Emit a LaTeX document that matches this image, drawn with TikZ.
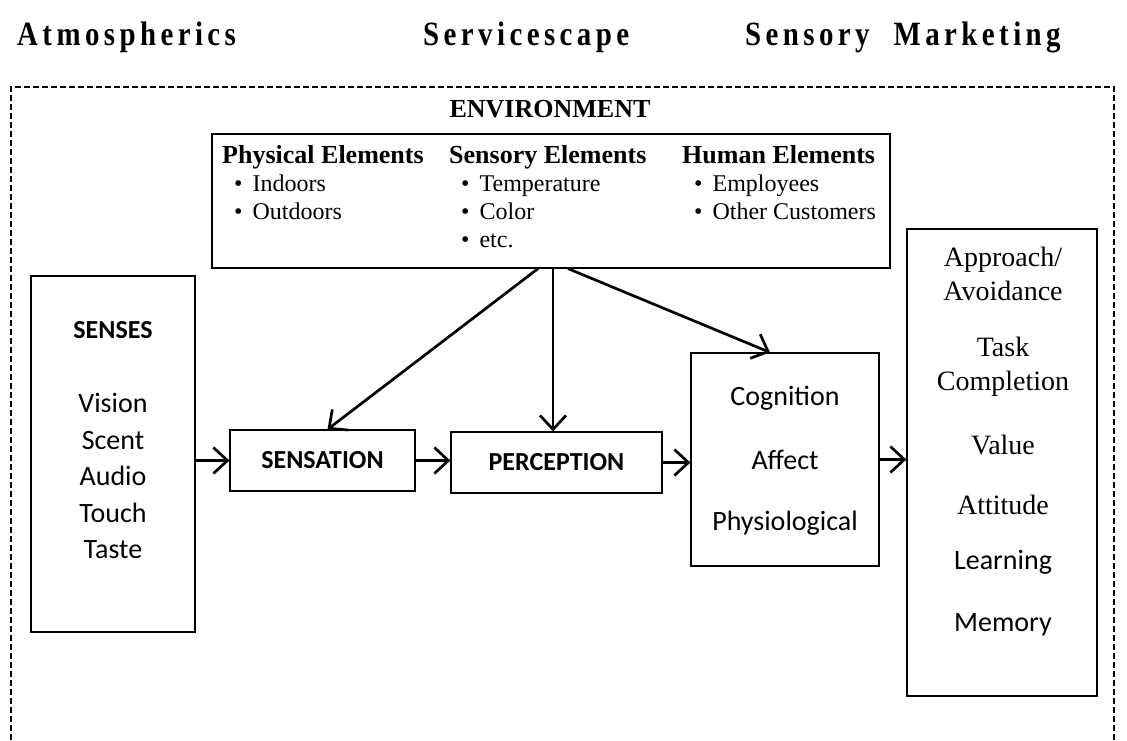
\documentclass[tikz,border=0pt]{standalone}
\usepackage{fontspec}
\setmainfont{Liberation Serif}
\newfontfamily\calfont{Carlito}
\newfontfamily\headfont[FakeStretch=0.85,LetterSpace=13]{Liberation Serif}
\usetikzlibrary{arrows.meta}

\newcommand{\envitem}[1]{\hspace*{12pt}\textbullet\hspace{10pt}#1}

\tikzset{
  box/.style={draw, line width=1.2pt, inner sep=0pt},
  flow/.style={line width=2.7pt, -{Straight Barb[length=14pt, width=26pt, line width=2.7pt]}},
  cal/.style={font=\calfont\fontsize{28}{34}\selectfont},
  calb/.style={font=\calfont\bfseries\fontsize{26}{32}\selectfont},
  tms/.style={font=\fontsize{28}{34}\selectfont},
  ttl/.style={anchor=base west, inner sep=0pt, font=\headfont\bfseries\fontsize{34}{38}\selectfont},
  envcol/.style={anchor=north west, align=left, inner sep=0pt, font=\fontsize{24}{28}\selectfont},
}

\begin{document}
\begin{tikzpicture}[x=1pt, y=-1pt]
\useasboundingbox (0,0) rectangle (1127,740);

% headings
\node[ttl] (atmo) at (17,45) {Atmospherics};
\node[ttl] (scape) at (423,45) {Servicescape};
\node[ttl] (sensmk) at (745,45) {Sensory\hspace{24pt}Marketing};

% outer frame
\draw[line width=1.2pt, dash pattern=on 6pt off 3pt] (11,740)--(11,87)--(1114,87)--(1114,740);

% environment
\node[font=\bfseries\fontsize{26}{30}\selectfont] (envtitle) at (550,109) {ENVIRONMENT};
\node[box, minimum width=678pt, minimum height=134pt] (env) at (551,201) {};
\node[envcol] (phys) at (222,145)
  {{\fontsize{26}{28}\selectfont\bfseries Physical Elements}\\ \envitem{Indoors}\\ \envitem{Outdoors}};
\node[envcol] (sens) at (449,145)
  {{\fontsize{26}{28}\selectfont\bfseries Sensory Elements}\\ \envitem{Temperature}\\ \envitem{Color}\\ \envitem{etc.}};
\node[envcol] (human) at (682,145)
  {{\fontsize{26}{28}\selectfont\bfseries Human Elements}\\ \envitem{Employees}\\ \envitem{Other Customers}};

% senses
\node[box, minimum width=164pt, minimum height=356pt] (senses) at (113,454) {};
\node[calb] (sensestitle) at (113,330) {SENSES};
\node[cal, align=center, font=\calfont\fontsize{28}{36.5}\selectfont] (senselist) at (113,476)
  {Vision\\Scent\\Audio\\Touch\\Taste};

% chain
\node[box, calb, minimum width=185pt, minimum height=61pt] (sensation) at (322.5,460.5) {SENSATION};
\node[box, calb, minimum width=211pt, minimum height=61pt] (perception) at (556.5,462.5) {PERCEPTION};
\node[box, minimum width=188pt, minimum height=213pt] (cog) at (785,459.5) {};
\node[cal] (cogn) at (785,398) {Cognition};
\node[cal] (affect) at (785,460) {Affect};
\node[cal] (physio) at (785,523) {Physiological};

% outcomes
\node[box, minimum width=190pt, minimum height=467pt] (outcome) at (1002,462.5) {};
\node[tms, align=center] (approach) at (1003,274) {Approach/\\Avoidance};
\node[tms, align=center] (task) at (1003,367) {Task\\Completion};
\node[tms] (value) at (1003,445) {Value};
\node[tms] (attitude) at (1003,505) {Attitude};
\node[cal] (learning) at (1003,562) {Learning};
\node[cal] (memory) at (1003,625) {Memory};

% arrows
\draw[flow] (senses.east |- sensation.west) -- (sensation.west);
\draw[flow] (sensation.east) -- (sensation.east -| perception.west);
\draw[flow] (perception.east) -- (perception.east -| cog.west);
\draw[flow] (cog.east) -- (cog.east -| outcome.west);
\draw[flow] ([xshift=-13pt]env.south) -- ([xshift=5pt]sensation.north);
\draw[flow] ([xshift=2pt]env.south) -- ([xshift=-3.5pt]perception.north);
\draw[flow] ([xshift=17pt]env.south) -- ([xshift=-15pt]cog.north);
\end{tikzpicture}
\end{document}
